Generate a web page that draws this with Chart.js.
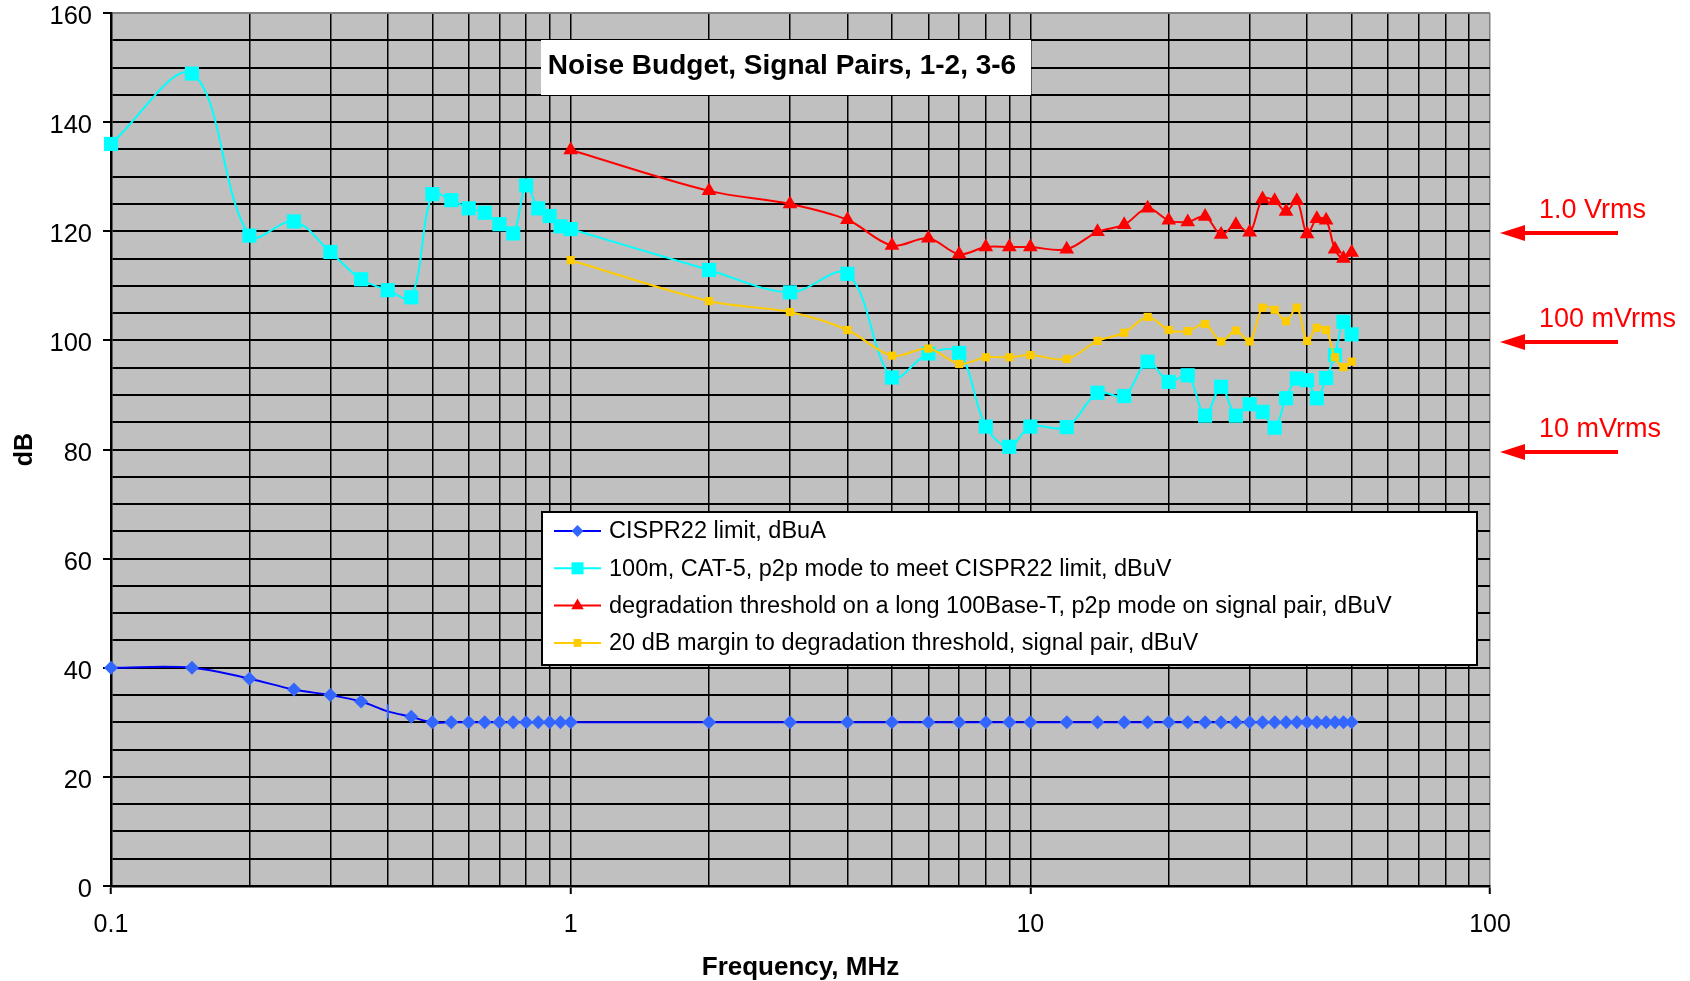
<!DOCTYPE html>
<html>
<head>
<meta charset="utf-8">
<script src="https://cdn.jsdelivr.net/npm/chart.js@4"></script>
<style>
  html, body { margin: 0; padding: 0; background: #fff; }
  canvas { display: block; }
</style>
</head>
<body>
<canvas id="c" width="1690" height="981"></canvas>
<script>
// ---------------- data ----------------
const freqAll = [0.1, 0.15, 0.2, 0.25, 0.3, 0.35, 0.4, 0.45, 0.5, 0.55, 0.6, 0.65, 0.7, 0.75, 0.8, 0.85, 0.9, 0.95, 1,
                 2, 3, 4, 5, 6, 7, 8, 9, 10, 12, 14, 16, 18, 20, 22, 24, 26, 28, 30, 32, 34, 36, 38, 40, 42, 44, 46, 48, 50];
const freqHigh = [1, 2, 3, 4, 5, 6, 7, 8, 9, 10, 12, 14, 16, 18, 20, 22, 24, 26, 28, 30, 32, 34, 36, 38, 40, 42, 44, 46, 48, 50];

const cisprLimit = [40, 40, 38, 36, 35, 33.8, 32, 31, 30, 30, 30, 30, 30, 30, 30, 30, 30, 30, 30,
                    30, 30, 30, 30, 30, 30, 30, 30, 30, 30, 30, 30, 30, 30, 30, 30, 30, 30, 30, 30, 30, 30, 30, 30, 30, 30, 30, 30, 30];
const cat5Mode = [136, 148.9, 119.2, 121.8, 116.2, 111.2, 109.2, 107.9, 126.8, 125.7, 124.2, 123.4, 121.3, 119.6, 128.4, 124.2, 122.8, 120.9, 120.4,
                  112.9, 108.8, 112.2, 93.2, 97.6, 97.7, 84.2, 80.5, 84.2, 84.1, 90.4, 89.8, 96.1, 92.4, 93.6, 86.2, 91.5, 86.2, 88.3, 86.9, 84.0, 89.4, 93.0, 92.7, 89.4, 93.1, 97.3, 103.4, 101.1];
const degradation = [134.9, 127.4, 125, 122.1, 117.4, 118.7, 115.8, 117.1, 117.1, 117.1, 116.7, 119.9, 121.2, 124.2, 122, 121.7, 122.7, 119.4, 121.2, 119.8,
                     125.9, 125.6, 123.6, 125.6, 119.5, 122.3, 122, 116.7, 115, 116.1];
const margin20 = [114.7, 107.2, 105.2, 101.9, 97.2, 98.5, 95.7, 96.9, 96.9, 97.3, 96.6, 99.9, 101.4, 104.3, 101.9, 101.7, 103, 99.8, 101.8, 99.8,
                  106, 105.6, 103.5, 106, 99.9, 102.3, 101.9, 96.9, 95.1, 96.1];

const seriesNames = [
  'CISPR22 limit, dBuA',
  '100m, CAT-5, p2p mode to meet CISPR22 limit, dBuV',
  'degradation threshold on a long 100Base-T, p2p mode on signal pair, dBuV',
  '20 dB margin to degradation threshold, signal pair, dBuV'
];
const xTickLabels = ['0.1', '1', '10', '100'];
const yTickLabels = ['0', '20', '40', '60', '80', '100', '120', '140', '160'];
const titleText = 'Noise Budget, Signal Pairs, 1-2, 3-6';
const xTitle = 'Frequency, MHz';
const yTitle = 'dB';
const annoLabels = ['1.0 Vrms', '100 mVrms', '10 mVrms'];
const annoLevels = [120, 100, 80];

// ---------------- chart ----------------
const FONT = "'Liberation Sans', Arial, Helvetica, sans-serif";
const pts = (xs, ys) => xs.map((x, i) => ({ x: x, y: ys[i] }));

const styles = [
  { line: '#0000FF', fill: '#3366FF', shape: 'rectRot', r: 7 },
  { line: '#00FFFF', fill: '#00FFFF', shape: 'rect', r: 10 },
  { line: '#FF0000', fill: '#FF0000', shape: 'triangle', r: 8.5 },
  { line: '#FFCC00', fill: '#FFCC00', shape: 'rect', r: 5.8 }
];

function isDecade(v) {
  return xTickLabels.some(l => Math.abs(Math.log10(v) - Math.log10(parseFloat(l))) < 1e-6);
}

function drawMarker(ctx, shape, x, y, r, color) {
  ctx.save();
  ctx.fillStyle = color;
  ctx.beginPath();
  if (shape === 'rectRot') {
    ctx.moveTo(x, y - r); ctx.lineTo(x + r, y); ctx.lineTo(x, y + r); ctx.lineTo(x - r, y);
  } else if (shape === 'rect') {
    const s = r * Math.SQRT1_2;
    ctx.rect(x - s, y - s, 2 * s, 2 * s);
  } else if (shape === 'triangle') {
    ctx.moveTo(x, y - r);
    ctx.lineTo(x + r * Math.sin(Math.PI / 3), y + r / 2);
    ctx.lineTo(x - r * Math.sin(Math.PI / 3), y + r / 2);
  }
  ctx.closePath();
  ctx.fill();
  ctx.restore();
}

const decor = {
  id: 'decor',
  beforeDraw(chart) {
    const { ctx, chartArea: a } = chart;
    ctx.save();
    ctx.fillStyle = '#FFFFFF';
    ctx.fillRect(0, 0, chart.width, chart.height);
    ctx.fillStyle = '#C0C0C0';
    ctx.fillRect(a.left, a.top, a.right - a.left, a.bottom - a.top);
    ctx.restore();
  },
  afterDraw(chart) {
    const { ctx, chartArea: a, scales } = chart;
    ctx.save();
    // title box
    ctx.fillStyle = '#FFFFFF';
    ctx.fillRect(541, 40, 490, 55);
    ctx.fillStyle = '#000000';
    ctx.font = 'bold 28px ' + FONT;
    ctx.textAlign = 'center';
    ctx.textBaseline = 'middle';
    ctx.fillText(titleText, 782, 66);

    // legend box
    const lx = 542, ly = 512, lw = 935, lh = 153;
    ctx.fillStyle = '#FFFFFF';
    ctx.fillRect(lx, ly, lw, lh);
    ctx.strokeStyle = '#000000';
    ctx.lineWidth = 2;
    ctx.strokeRect(lx, ly, lw, lh);
    ctx.font = '23.5px ' + FONT;
    ctx.textAlign = 'left';
    ctx.textBaseline = 'middle';
    seriesNames.forEach((name, i) => {
      const y = 531 + i * 37.3;
      const st = styles[i];
      ctx.strokeStyle = st.line;
      ctx.lineWidth = 2;
      ctx.beginPath();
      ctx.moveTo(554, y); ctx.lineTo(601, y);
      ctx.stroke();
      drawMarker(ctx, st.shape, 577.5, y, i === 3 ? 5.5 : st.r * 0.85, st.fill);
      ctx.fillStyle = '#000000';
      ctx.fillText(name, 609, y + 1);
    });

    // red arrows & labels on the right
    ctx.font = '27px ' + FONT;
    annoLevels.forEach((lvl, i) => {
      const y = Math.round(scales.y.getPixelForValue(lvl)) + 2;
      const tip = a.right + 10, tail = a.right + 128;
      ctx.strokeStyle = '#FF0000';
      ctx.fillStyle = '#FF0000';
      ctx.lineWidth = 4;
      ctx.beginPath();
      ctx.moveTo(tip + 20, y); ctx.lineTo(tail, y);
      ctx.stroke();
      ctx.beginPath();
      ctx.moveTo(tip, y); ctx.lineTo(tip + 25, y - 8); ctx.lineTo(tip + 25, y + 8);
      ctx.closePath();
      ctx.fill();
      ctx.textAlign = 'left';
      ctx.fillText(annoLabels[i], a.right + 49, y - 22);
    });
    ctx.restore();
  }
};

const datasets = [
  { data: pts(freqAll, cisprLimit), order: 3 },
  { data: pts(freqAll, cat5Mode), order: 2 },
  { data: pts(freqHigh, degradation), order: 1 },
  { data: pts(freqHigh, margin20), order: 0 }
].map((d, i) => Object.assign(d, {
  label: seriesNames[i],
  borderColor: styles[i].line,
  backgroundColor: styles[i].fill,
  borderWidth: 2,
  pointBackgroundColor: styles[i].fill,
  pointBorderWidth: 0,
  pointBorderColor: styles[i].fill,
  pointStyle: i === 0 ? (c => (c.raw && c.raw.x === 0.4 ? 'line' : 'rectRot')) : styles[i].shape,
  pointRotation: i === 0 ? (c => (c.raw && c.raw.x === 0.4 ? 90 : 0)) : 0,
  pointRadius: styles[i].r,
  pointHoverRadius: styles[i].r,
  tension: 0.35,
  clip: false,
  fill: false
}));
datasets[0].pointBorderWidth = c => (c.raw && c.raw.x === 0.4 ? 2 : 0);
datasets[0].pointBorderColor = '#3366FF';

new Chart(document.getElementById('c'), {
  type: 'line',
  data: { datasets },
  plugins: [decor],
  options: {
    responsive: false,
    animation: false,
    devicePixelRatio: 1,
    layout: { padding: { left: 0, right: 200, top: 13, bottom: 0 } },
    plugins: { legend: { display: false }, title: { display: false }, tooltip: { enabled: false } },
    scales: {
      x: {
        type: 'logarithmic',
        min: 0.1,
        max: 100,
        afterBuildTicks: s => {
          const t = [];
          [0.1, 1, 10].forEach(d => { for (let m = 1; m < 10; m++) t.push({ value: +(d * m).toPrecision(3) }); });
          t.push({ value: 100 });
          s.ticks = t;
        },
        afterFit: s => { s.height = 95; s.paddingLeft = 0; s.paddingRight = 0; },
        ticks: {
          autoSkip: false,
          maxRotation: 0,
          color: '#000',
          padding: 19,
          font: { family: FONT, size: 25, lineHeight: 1 },
          callback: v => {
            const l = xTickLabels.find(l => Math.abs(Math.log10(v) - Math.log10(parseFloat(l))) < 1e-6);
            return l === undefined ? '' : l;
          }
        },
        grid: {
          color: c => (c.tick && c.tick.value === 100 ? '#808080' : '#000000'),
          lineWidth: 1.5,
          tickLength: 8,
          tickWidth: 2,
          tickColor: c => (c.tick && isDecade(c.tick.value) ? '#000000' : 'rgba(0,0,0,0)')
        },
        border: { display: true, color: '#000', width: 2.5 },
        title: { display: true, text: xTitle, color: '#000', font: { family: FONT, size: 26, weight: 'bold', lineHeight: 1 }, padding: { top: 0, bottom: 0 } }
      },
      y: {
        min: 0,
        max: 160,
        afterFit: s => { s.width = 111; s.paddingTop = 0; s.paddingBottom = 0; },
        afterBuildTicks: s => {
          const t = [];
          for (let v = 0; v <= 160; v += 5) t.push({ value: v });
          s.ticks = t;
        },
        ticks: {
          autoSkip: false,
          color: '#000',
          padding: 11,
          labelOffset: 4,
          font: { family: FONT, size: 25.5, lineHeight: 1 },
          callback: v => (yTickLabels.includes(String(v)) ? String(v) : '')
        },
        grid: {
          color: c => (c.tick && c.tick.value === 160 ? '#808080' : '#000000'),
          lineWidth: 2,
          tickLength: 8,
          tickWidth: 2,
          tickColor: c => (c.tick && yTickLabels.includes(String(c.tick.value)) ? '#000000' : 'rgba(0,0,0,0)')
        },
        border: { display: true, color: '#000', width: 2.5 },
        title: { display: true, text: yTitle, color: '#000', font: { family: FONT, size: 25, weight: 'bold' }, padding: { top: 10, bottom: 0 } }
      }
    }
  }
});
</script>
</body>
</html>
